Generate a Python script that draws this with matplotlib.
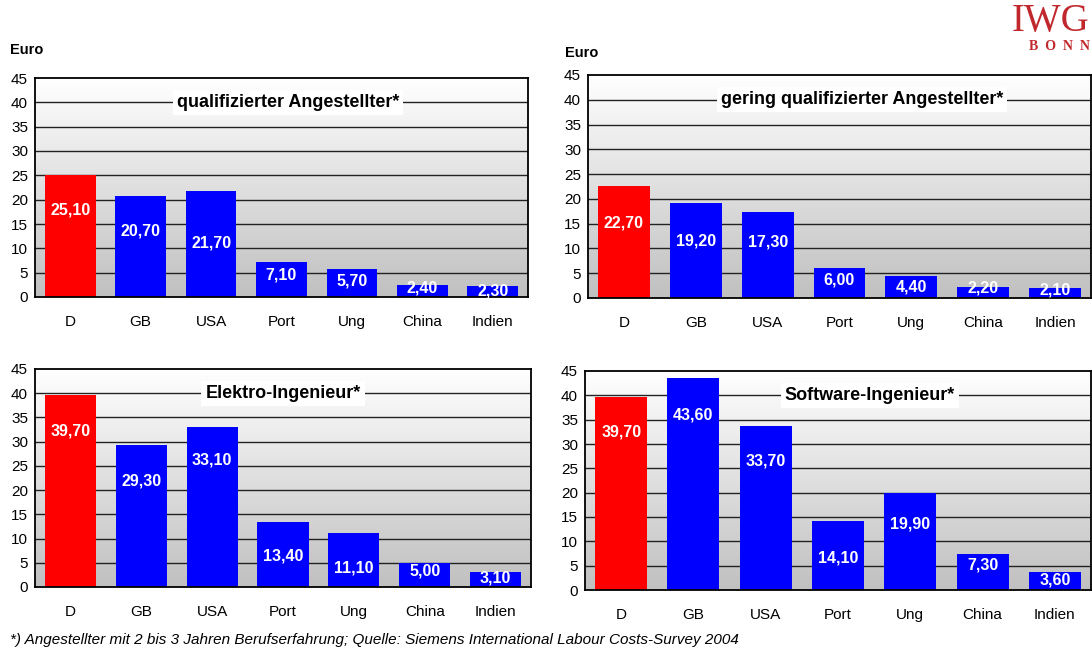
import matplotlib.pyplot as plt
import numpy as np
from matplotlib.colors import LinearSegmentedColormap

plt.rcParams['font.family'] = ['Liberation Sans', 'DejaVu Sans']

countries = ["D", "GB", "USA", "Port", "Ung", "China", "Indien"]

titles = ["qualifizierter Angestellter*", "gering qualifizierter Angestellter*",
          "Elektro-Ingenieur*", "Software-Ingenieur*"]

qualifiziert = [25.10, 20.70, 21.70, 7.10, 5.70, 2.40, 2.30]
gering = [22.70, 19.20, 17.30, 6.00, 4.40, 2.20, 2.10]
elektro = [39.70, 29.30, 33.10, 13.40, 11.10, 5.00, 3.10]
software = [39.70, 43.60, 33.70, 14.10, 19.90, 7.30, 3.60]

yticks = [0, 5, 10, 15, 20, 25, 30, 35, 40, 45]

# where the value labels sit inside the bars (data units)
label_y = [
    [17.9, 13.6, 11.1, 4.5, 3.3, 1.85, 1.2],
    [15.2, 11.6, 11.2, 3.65, 2.2, 2.0, 1.6],
    [32.2, 21.9, 26.2, 6.4, 3.9, 3.3, 1.9],
    [32.4, 35.9, 26.5, 6.6, 13.6, 5.1, 2.05],
]

# axes boxes in pixels: left, top, right, bottom
boxes = [(35, 78, 528, 297), (588, 75, 1091, 298),
         (35, 369, 531, 587), (585, 371, 1091, 590)]
title_x = [0.513, 0.545, 0.50, 0.563]

W, H = 1092, 649
fig = plt.figure(figsize=(W / 100, H / 100), dpi=100)

grad = LinearSegmentedColormap.from_list("g", ["#c0c0c0", "#ffffff"])

for i, vals in enumerate([qualifiziert, gering, elektro, software]):
    l, t, r, b = boxes[i]
    ax = fig.add_axes([l / W, 1 - b / H, (r - l) / W, (b - t) / H])
    x = np.arange(len(countries))
    ax.imshow(np.linspace(0, 1, 256).reshape(-1, 1), cmap=grad, origin="lower",
              extent=[-0.5, 6.5, 0, 45], aspect="auto", zorder=0)
    for yv in yticks[1:-1]:
        ax.axhline(yv, color="#222222", lw=1.0, zorder=1)
    colors = ["#ff0000"] + ["#0000ff"] * (len(countries) - 1)
    ax.bar(x, vals, width=0.72, color=colors, zorder=2)
    for xi, v, ly in zip(x, vals, label_y[i]):
        ax.text(xi, ly, f"{v:.2f}".replace(".", ","), ha="center", va="center",
                color="white", fontsize=11.5, fontweight="bold", zorder=3)
    ax.text(title_x[i], 40, titles[i], transform=ax.get_yaxis_transform(),
            ha="center", va="center", fontsize=13, fontweight="bold", zorder=4,
            bbox=dict(facecolor="white", edgecolor="none", pad=3))
    ax.set_xlim(-0.5, 6.5)
    ax.set_ylim(0, 45)
    ax.set_yticks(yticks)
    ax.set_xticks(x)
    ax.set_xticklabels(countries)
    ax.tick_params(axis="x", length=0, pad=13, labelsize=11)
    ax.tick_params(axis="y", length=0, pad=5, labelsize=11)
    for s in ax.spines.values():
        s.set_linewidth(1.3)
        s.set_color("black")

fig.text(10 / W, 1 - 50 / H, "Euro", fontsize=10.5, fontweight="bold", va="center")
fig.text(565 / W, 1 - 53 / H, "Euro", fontsize=10.5, fontweight="bold", va="center")

fig.text(0.998, 1 - 21 / H, "IWG", family="Liberation Serif", fontsize=28,
         color="#c0282d", ha="right", va="center")
fig.text(0.998, 1 - 46 / H, "B  O  N  N", family="Liberation Serif", fontsize=10,
         fontweight="bold", color="#c0282d", ha="right", va="center")

fig.text(10 / W, 1 - 640 / H,
         "*) Angestellter mit 2 bis 3 Jahren Berufserfahrung; Quelle: Siemens International Labour Costs-Survey 2004",
         fontsize=11, style="italic", va="center")

fig.savefig("out.png", dpi=100)
